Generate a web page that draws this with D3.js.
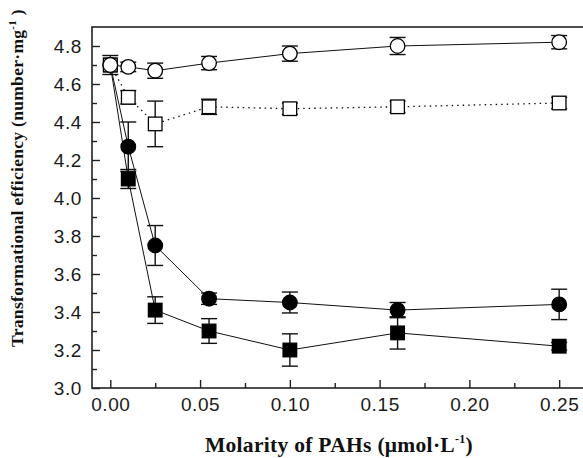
<!DOCTYPE html>
<html lang="en">
<head>
  <meta charset="UTF-8" />
  <title>Transformational efficiency vs molarity of PAHs</title>
  <script src="https://d3js.org/d3.v7.min.js"></script>
  <style>
    body { margin: 0; background: #fff; }
    svg { display: block; }
    .tick text { font-family: "Liberation Sans", Arial, sans-serif; font-size: 19px; letter-spacing: 0.6px; fill: #1a1a1a; }
    .axis-title { font-family: "Liberation Serif", "Times New Roman", serif; font-weight: bold; fill: #111; }
  </style>
</head>
<body>
  <div id="chart"></div>
  <script>
    // data
    const molarity      = [0, 0.01, 0.025, 0.055, 0.10, 0.16, 0.25];
    const openCircle    = [4.70, 4.69, 4.67, 4.71, 4.76, 4.80, 4.82];
    const openCircleErr = [0.05, 0.025, 0.04, 0.035, 0.04, 0.045, 0.035];
    const openSquare    = [4.70, 4.53, 4.39, 4.48, 4.47, 4.48, 4.50];
    const openSquareErr = [0, 0.035, 0.12, 0.04, 0.03, 0.03, 0.03];
    const fillCircle    = [4.70, 4.27, 3.75, 3.47, 3.45, 3.41, 3.44];
    const fillCircleErr = [0, 0.13, 0.105, 0.03, 0.055, 0.04, 0.08];
    const fillSquare    = [4.70, 4.10, 3.41, 3.30, 3.20, 3.29, 3.22];
    const fillSquareErr = [0, 0.05, 0.07, 0.065, 0.085, 0.085, 0.02];

    const xTicks = [0, 0.05, 0.10, 0.15, 0.20, 0.25];
    const xMinor = [0.025, 0.075, 0.125, 0.175, 0.225];
    const yTicks = [3.0, 3.2, 3.4, 3.6, 3.8, 4.0, 4.2, 4.4, 4.6, 4.8];
    const yMinor = [3.1, 3.3, 3.5, 3.7, 3.9, 4.1, 4.3, 4.5, 4.7];

    const width = 583, height = 458;
    const plotL = 92, plotT = 27, plotB = 388, plotR = 587;

    const svg = d3.select("#chart").append("svg")
      .attr("width", width)
      .attr("height", height);

    const x = d3.scaleLinear().domain([-0.0102, 0.2655]).range([plotL, plotR]);
    const y = d3.scaleLinear().domain([3.0, 4.9]).range([plotB, plotT]);

    // axes, ticks pointing inward
    svg.append("g")
      .attr("transform", `translate(0,${plotB})`)
      .call(d3.axisBottom(x).tickValues(xTicks).tickFormat(d3.format(".2f"))
        .tickSize(-8).tickPadding(10));
    svg.append("g")
      .attr("transform", `translate(0,${plotB})`)
      .call(d3.axisBottom(x).tickValues(xMinor).tickFormat("").tickSize(-5));

    svg.append("g")
      .attr("transform", `translate(${plotL},0)`)
      .call(d3.axisLeft(y).tickValues(yTicks).tickFormat(d3.format(".1f"))
        .tickSize(-8).tickPadding(10));
    svg.append("g")
      .attr("transform", `translate(${plotL},0)`)
      .call(d3.axisLeft(y).tickValues(yMinor).tickFormat("").tickSize(-5));

    svg.selectAll(".domain").remove();
    svg.selectAll(".tick line").attr("stroke", "#222").attr("stroke-width", 1.4);

    // frame
    svg.append("rect")
      .attr("x", plotL).attr("y", plotT)
      .attr("width", plotR - plotL).attr("height", plotB - plotT)
      .attr("fill", "none").attr("stroke", "#222").attr("stroke-width", 1.6);

    const series = [
      { vals: fillSquare,  err: fillSquareErr,  shape: "square", fill: "#000", dash: null },
      { vals: fillCircle,  err: fillCircleErr,  shape: "circle", fill: "#000", dash: null },
      { vals: openSquare,  err: openSquareErr,  shape: "square", fill: "#fff", dash: "1.5,4" },
      { vals: openCircle,  err: openCircleErr,  shape: "circle", fill: "#fff", dash: null }
    ];

    const line = d3.line().x(d => x(d[0])).y(d => y(d[1]));

    series.forEach(s => {
      const pts = molarity.map((m, i) => [m, s.vals[i]]);
      svg.append("path")
        .datum(pts)
        .attr("d", line)
        .attr("fill", "none")
        .attr("stroke", "#111")
        .attr("stroke-width", s.dash ? 1.3 : 1)
        .attr("stroke-dasharray", s.dash);
    });

    series.forEach(s => {
      const pts = molarity.map((m, i) => [m, s.vals[i], s.err[i]]);
      const g = svg.append("g");

      const eb = g.selectAll(".eb").data(pts.filter(d => d[2] > 0)).enter().append("g")
        .attr("stroke", "#111").attr("stroke-width", 1.4);
      eb.append("line")
        .attr("x1", d => x(d[0])).attr("x2", d => x(d[0]))
        .attr("y1", d => y(d[1] + d[2])).attr("y2", d => y(d[1] - d[2]));
      eb.append("line")
        .attr("x1", d => x(d[0]) - 8).attr("x2", d => x(d[0]) + 8)
        .attr("y1", d => y(d[1] + d[2])).attr("y2", d => y(d[1] + d[2]));
      eb.append("line")
        .attr("x1", d => x(d[0]) - 8).attr("x2", d => x(d[0]) + 8)
        .attr("y1", d => y(d[1] - d[2])).attr("y2", d => y(d[1] - d[2]));

      if (s.shape === "circle") {
        g.selectAll("circle").data(pts).enter().append("circle")
          .attr("cx", d => x(d[0])).attr("cy", d => y(d[1]))
          .attr("r", 7.3)
          .attr("fill", s.fill).attr("stroke", "#000").attr("stroke-width", 1.3);
      } else {
        g.selectAll("rect").data(pts).enter().append("rect")
          .attr("x", d => x(d[0]) - 6.8).attr("y", d => y(d[1]) - 6.8)
          .attr("width", 13.6).attr("height", 13.6)
          .attr("fill", s.fill).attr("stroke", "#000").attr("stroke-width", 1.3);
      }
    });

    // axis titles
    const xt = svg.append("text")
      .attr("class", "axis-title")
      .attr("font-size", 21.5)
      .attr("letter-spacing", 0.3)
      .attr("x", 339).attr("y", 452)
      .attr("text-anchor", "middle");
    xt.append("tspan").text("Molarity of PAHs (μmol·L");
    xt.append("tspan").attr("dy", -9).attr("font-size", 12).text("-1");
    xt.append("tspan").attr("dy", 9).text(")");

    const yt = svg.append("text")
      .attr("class", "axis-title")
      .attr("font-size", 17.5)
      .attr("letter-spacing", 0.3)
      .attr("transform", "translate(23,178) rotate(-90)")
      .attr("text-anchor", "middle");
    yt.append("tspan").text("Transformational efficiency (number·mg");
    yt.append("tspan").attr("dy", -7).attr("font-size", 11).text("-1");
    yt.append("tspan").attr("dy", 7).text(" )");
  </script>
</body>
</html>
